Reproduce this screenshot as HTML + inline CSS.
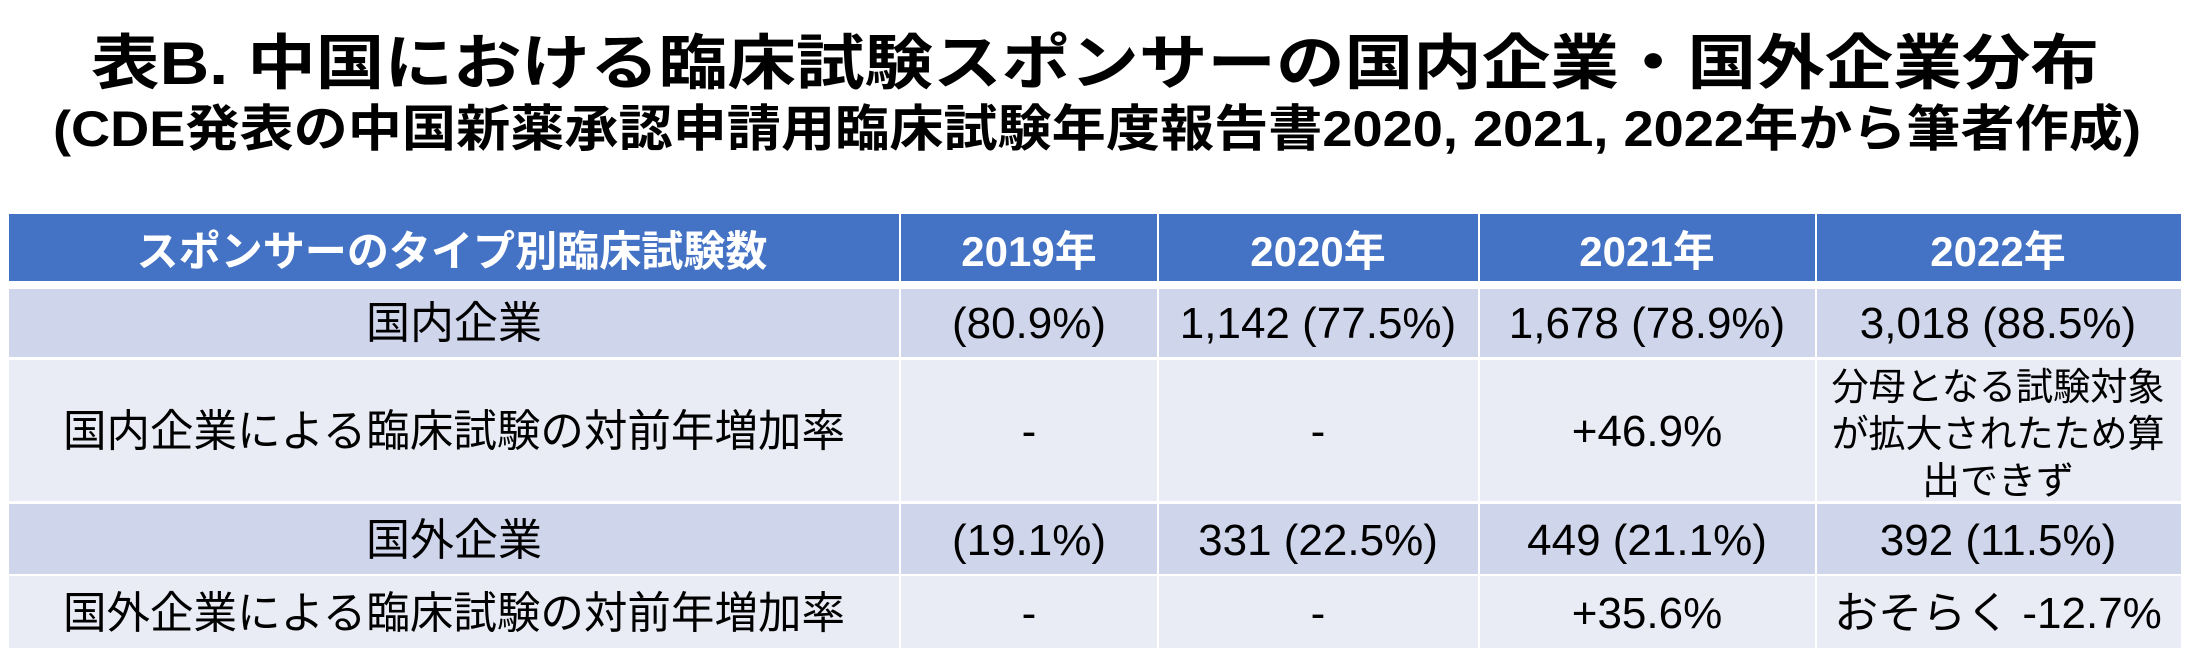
<!DOCTYPE html>
<html><head><meta charset="utf-8"><style>html,body{margin:0;padding:0;background:#fff;}svg{display:block;}</style></head>
<body>
<svg width="2188" height="656" viewBox="0 0 2188 656" xmlns="http://www.w3.org/2000/svg" font-family="Liberation Sans, Noto Sans CJK JP, sans-serif">
<rect width="2188" height="656" fill="#fff"/>
<text x="1095" y="84" font-size="60" font-weight="bold" text-anchor="middle" textLength="2008" lengthAdjust="spacingAndGlyphs">表B. 中国における臨床試験スポンサーの国内企業・国外企業分布</text>
<text x="1097" y="146" font-size="50" font-weight="bold" text-anchor="middle" textLength="2088" lengthAdjust="spacingAndGlyphs">(CDE発表の中国新薬承認申請用臨床試験年度報告書2020, 2021, 2022年から筆者作成)</text>
<g>
<rect x="9" y="214" width="2172" height="67" fill="#4472C4"/>
<rect x="9" y="289" width="2172" height="68" fill="#CFD5EA"/>
<rect x="9" y="360" width="2172" height="141" fill="#E9EBF5"/>
<rect x="9" y="504" width="2172" height="70" fill="#CFD5EA"/>
<rect x="9" y="576" width="2172" height="72" fill="#E9EBF5"/>
<rect x="9" y="281" width="2172" height="8" fill="#fff"/>
<rect x="9" y="357" width="2172" height="3" fill="#fff"/>
<rect x="9" y="501" width="2172" height="3" fill="#fff"/>
<rect x="9" y="574" width="2172" height="2" fill="#fff"/>
<rect x="899" y="214" width="2" height="434" fill="#fff"/>
<rect x="1157" y="214" width="2" height="434" fill="#fff"/>
<rect x="1478" y="214" width="2" height="434" fill="#fff"/>
<rect x="1815" y="214" width="2" height="434" fill="#fff"/>
</g>
<g font-size="42" font-weight="bold" fill="#fff" text-anchor="middle">
<text x="452" y="266" textLength="631" lengthAdjust="spacingAndGlyphs">スポンサーのタイプ別臨床試験数</text>
<text x="1029" y="266">2019年</text>
<text x="1318" y="266">2020年</text>
<text x="1647" y="266">2021年</text>
<text x="1998" y="266">2022年</text>
</g>
<g font-size="44" fill="#000" text-anchor="middle">
<text x="454" y="338">国内企業</text>
<text x="1029" y="338">(80.9%)</text>
<text x="1318" y="338">1,142 (77.5%)</text>
<text x="1647" y="338">1,678 (78.9%)</text>
<text x="1998" y="338">3,018 (88.5%)</text>
<text x="454" y="446" textLength="782" lengthAdjust="spacingAndGlyphs">国内企業による臨床試験の対前年増加率</text>
<text x="1029" y="446">-</text>
<text x="1318" y="446">-</text>
<text x="1647" y="446">+46.9%</text>
<text x="454" y="555">国外企業</text>
<text x="1029" y="555">(19.1%)</text>
<text x="1318" y="555">331 (22.5%)</text>
<text x="1647" y="555">449 (21.1%)</text>
<text x="1998" y="555">392 (11.5%)</text>
<text x="454" y="628" textLength="782" lengthAdjust="spacingAndGlyphs">国外企業による臨床試験の対前年増加率</text>
<text x="1029" y="628">-</text>
<text x="1318" y="628">-</text>
<text x="1647" y="628">+35.6%</text>
<text x="1998" y="628">おそらく -12.7%</text>
</g>
<g font-size="38" fill="#000" text-anchor="middle">
<text x="1998" y="400" textLength="333" lengthAdjust="spacingAndGlyphs">分母となる試験対象</text>
<text x="1998" y="447" textLength="333" lengthAdjust="spacingAndGlyphs">が拡大されたため算</text>
<text x="1998" y="494">出できず</text>
</g>
</svg>
</body></html>
